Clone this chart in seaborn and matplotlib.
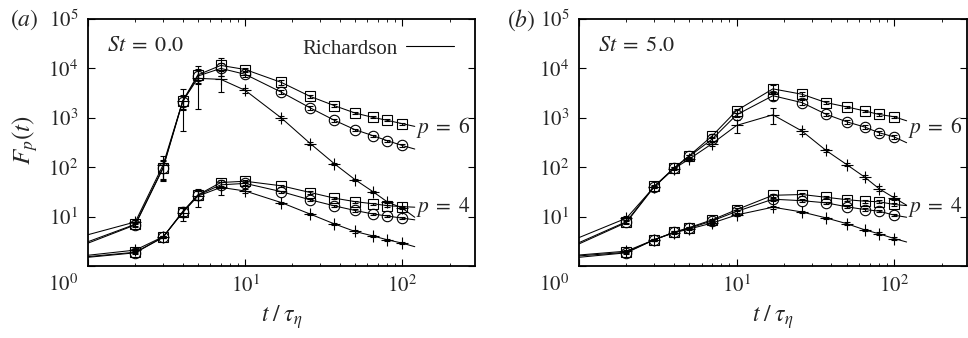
import numpy as np
import matplotlib
matplotlib.use('Agg')
import matplotlib.pyplot as plt
from matplotlib.lines import Line2D
import seaborn as sns

sns.set_theme(context='notebook', style='ticks')
plt.rcParams['font.family'] = ['Liberation Serif', 'DejaVu Serif']
plt.rcParams['mathtext.fontset'] = 'stix'

# sampling times t/tau_eta of the markers
t = [2, 3, 4, 5, 7, 10, 17, 26, 37, 50, 65, 80, 100]
t_first, t_last = 1, 120

# ---- St = 0.0 ----
st0_p6_sq = [7.0, 97, 2190, 7400, 11500, 9500, 5200, 2700, 1760, 1250, 1020, 890, 760]
st0_p6_ci = [6.8, 95, 2100, 7000, 10000, 7600, 3300, 1580, 890, 575, 435, 345, 275]
st0_p6_pl = [7.8, 110, 2150, 6300, 6000, 3600, 990, 300, 117, 56, 32, 20, 14.8]
st0_p4_sq = [1.9, 3.8, 12.6, 27.5, 49, 52, 42, 30.7, 23.6, 20.1, 18.2, 16.7, 15.9]
st0_p4_ci = [1.85, 3.8, 12.3, 27, 44, 47, 32, 21.8, 16.5, 13.3, 11.3, 10.3, 9.3]
st0_p4_pl = [2.1, 3.9, 12, 26, 39, 33, 19.2, 11.2, 7.1, 5.0, 4.06, 3.4, 2.9]
# curve values at t_first / t_last (sq, ci, pl)
st0_p6_start = [3.1, 2.9, 4.3]
st0_p6_end = [670, 233, 9.7]
st0_p4_start = [1.55, 1.5, 1.65]
st0_p4_end = [15.5, 8.6, 2.46]
# relative error bars
st0_p6_sq_err = [0.08, 0.45, 0.3, 0.3, 0.4, 0.08, 0.1, 0.08, 0.07, 0.06, 0.05, 0.05, 0.05]
st0_p6_ci_err = [0.08, 0.4, 0.3, 0.3, 0.3, 0.1, 0.1, 0.08, 0.06, 0.05, 0.05, 0.05, 0.05]
st0_p6_pl_err = [0.1, 0.5, 0.75, 0.76, 0.45, 0.1, 0.08, 0.06, 0.05, 0.05, 0.05, 0.05, 0.05]
st0_p4_sq_err = [0.05, 0.05, 0.2, 0.2, 0.15, 0.08, 0.05, 0.05, 0.05, 0.05, 0.05, 0.05, 0.05]
st0_p4_ci_err = [0.05, 0.05, 0.2, 0.2, 0.15, 0.08, 0.05, 0.05, 0.05, 0.05, 0.05, 0.05, 0.05]
st0_p4_pl_err = [0.05, 0.05, 0.33, 0.4, 0.3, 0.1, 0.05, 0.05, 0.05, 0.05, 0.05, 0.05, 0.05]

# ---- St = 5.0 ----
st5_p6_sq = [7.9, 41, 96, 170, 430, 1400, 3850, 3000, 2030, 1660, 1380, 1170, 1050]
st5_p6_ci = [7.6, 40, 95, 165, 370, 1150, 2800, 2030, 1180, 830, 650, 500, 410]
st5_p6_pl = [9.3, 40, 93, 146, 300, 700, 1150, 540, 218, 113, 63, 37, 24]
st5_p4_sq = [1.9, 3.4, 4.8, 6.0, 8.6, 13.8, 27, 28, 24.6, 22, 20.5, 20, 17.6]
st5_p4_ci = [1.85, 3.4, 4.8, 5.8, 8.2, 12.7, 22.5, 21, 19, 15.8, 13.9, 12.9, 10.7]
st5_p4_pl = [2.0, 3.4, 4.7, 5.6, 7.4, 10.8, 15.5, 12.4, 9.4, 7.2, 5.4, 4.5, 3.6]
st5_p6_start = [2.97, 2.8, 3.76]
st5_p6_end = [870, 313, 17]
st5_p4_start = [1.6, 1.5, 1.67]
st5_p4_end = [16.7, 9.7, 3.06]
st5_p6_sq_err = [0.06, 0.05, 0.05, 0.05, 0.08, 0.1, 0.18, 0.1, 0.06, 0.06, 0.06, 0.06, 0.06]
st5_p6_ci_err = [0.06, 0.05, 0.05, 0.05, 0.08, 0.1, 0.2, 0.12, 0.08, 0.08, 0.1, 0.1, 0.1]
st5_p6_pl_err = [0.1, 0.05, 0.05, 0.05, 0.1, 0.3, 0.35, 0.12, 0.08, 0.08, 0.1, 0.1, 0.1]
st5_p4_sq_err = [0.05, 0.05, 0.05, 0.05, 0.05, 0.06, 0.06, 0.06, 0.06, 0.06, 0.06, 0.06, 0.06]
st5_p4_ci_err = [0.05, 0.05, 0.05, 0.05, 0.05, 0.06, 0.06, 0.06, 0.06, 0.06, 0.06, 0.06, 0.06]
st5_p4_pl_err = [0.05, 0.05, 0.05, 0.05, 0.05, 0.06, 0.06, 0.06, 0.06, 0.06, 0.06, 0.06, 0.06]

panels = [
    {'St': r'$St\;=\;0.0$', 'tag': r'$(a)$',
     'series': [(st0_p6_sq, st0_p6_sq_err, st0_p6_start[0], st0_p6_end[0], 's'),
                (st0_p6_ci, st0_p6_ci_err, st0_p6_start[1], st0_p6_end[1], 'o'),
                (st0_p6_pl, st0_p6_pl_err, st0_p6_start[2], st0_p6_end[2], '+'),
                (st0_p4_sq, st0_p4_sq_err, st0_p4_start[0], st0_p4_end[0], 's'),
                (st0_p4_ci, st0_p4_ci_err, st0_p4_start[1], st0_p4_end[1], 'o'),
                (st0_p4_pl, st0_p4_pl_err, st0_p4_start[2], st0_p4_end[2], '+')]},
    {'St': r'$St\;=\;5.0$', 'tag': r'$(b)$',
     'series': [(st5_p6_sq, st5_p6_sq_err, st5_p6_start[0], st5_p6_end[0], 's'),
                (st5_p6_ci, st5_p6_ci_err, st5_p6_start[1], st5_p6_end[1], 'o'),
                (st5_p6_pl, st5_p6_pl_err, st5_p6_start[2], st5_p6_end[2], '+'),
                (st5_p4_sq, st5_p4_sq_err, st5_p4_start[0], st5_p4_end[0], 's'),
                (st5_p4_ci, st5_p4_ci_err, st5_p4_start[1], st5_p4_end[1], 'o'),
                (st5_p4_pl, st5_p4_pl_err, st5_p4_start[2], st5_p4_end[2], '+')]},
]

fig = plt.figure(figsize=(9.68, 3.38), dpi=100)
axes = [fig.add_axes([88 / 968, 72 / 338, 387 / 968, 247 / 338]),
        fig.add_axes([579 / 968, 72 / 338, 388 / 968, 247 / 338])]
tag_x = [24 / 968, 521 / 968]

for ax, panel, tx in zip(axes, panels, tag_x):
    for vals, rel, v0, v1, mk in panel['series']:
        x_line = [t_first] + t + [t_last]
        y_line = [v0] + vals + [v1]
        sns.lineplot(ax=ax, x=x_line, y=y_line, color='black', lw=0.75,
                     sort=False, estimator=None)
        v = np.array(vals)
        ax.errorbar(t, v, yerr=v * np.array(rel), fmt=mk, ms=7.5 if mk != '+' else 8.5,
                    mfc='none', mec='black', mew=0.8, ecolor='black',
                    elinewidth=0.8, capsize=2, capthick=0.8, zorder=3)
    ax.set_xscale('log')
    ax.set_yscale('log')
    ax.set_xlim(1, 290)
    ax.set_ylim(1, 1e5)
    ax.set_xticks([1, 10, 100], labels=['', r'$10^1$', r'$10^2$'])
    ax.set_yticks([1, 10, 100, 1e3, 1e4, 1e5],
                  labels=['', r'$10^1$', r'$10^2$', r'$10^3$', r'$10^4$', r'$10^5$'])
    ax.tick_params(which='both', direction='in', top=True, right=True,
                   labelsize=15, color='black')
    ax.tick_params(which='major', length=5, width=0.8, pad=7)
    ax.tick_params(which='minor', length=2.5, width=0.6)
    for s in ax.spines.values():
        s.set_linewidth(1.3)
        s.set_color('black')
    ax.text(-0.065, -0.077, r'$10^0$', transform=ax.transAxes, fontsize=15,
            ha='center', va='center')
    ax.text(0.5, -0.206, r'$t\;/\;\tau_\eta$', transform=ax.transAxes,
            fontsize=17, ha='center', va='center')
    ax.text(0.05, 0.887, panel['St'], transform=ax.transAxes, fontsize=16,
            ha='left', va='center')
    ax.text(0.847, 0.559, r'$p\;=\;6$', transform=ax.transAxes, fontsize=15.5,
            ha='left', va='center')
    ax.text(0.847, 0.237, r'$p\;=\;4$', transform=ax.transAxes, fontsize=15.5,
            ha='left', va='center')
    fig.text(tx, 1 - 20 / 338, panel['tag'], fontsize=17, ha='center', va='center')

axes[0].legend(handles=[Line2D([], [], color='black', lw=0.8, label='Richardson')],
               loc='center right', bbox_to_anchor=(0.945, 0.879), frameon=False,
               markerfirst=False, fontsize=15, handlelength=2.3, handletextpad=0.4,
               borderpad=0, borderaxespad=0)

fig.text(25 / 968, 1 - 140 / 338, r'$F_p(t)$', rotation=90, fontsize=18,
         ha='center', va='center')

fig.savefig('out.png', dpi=100)
